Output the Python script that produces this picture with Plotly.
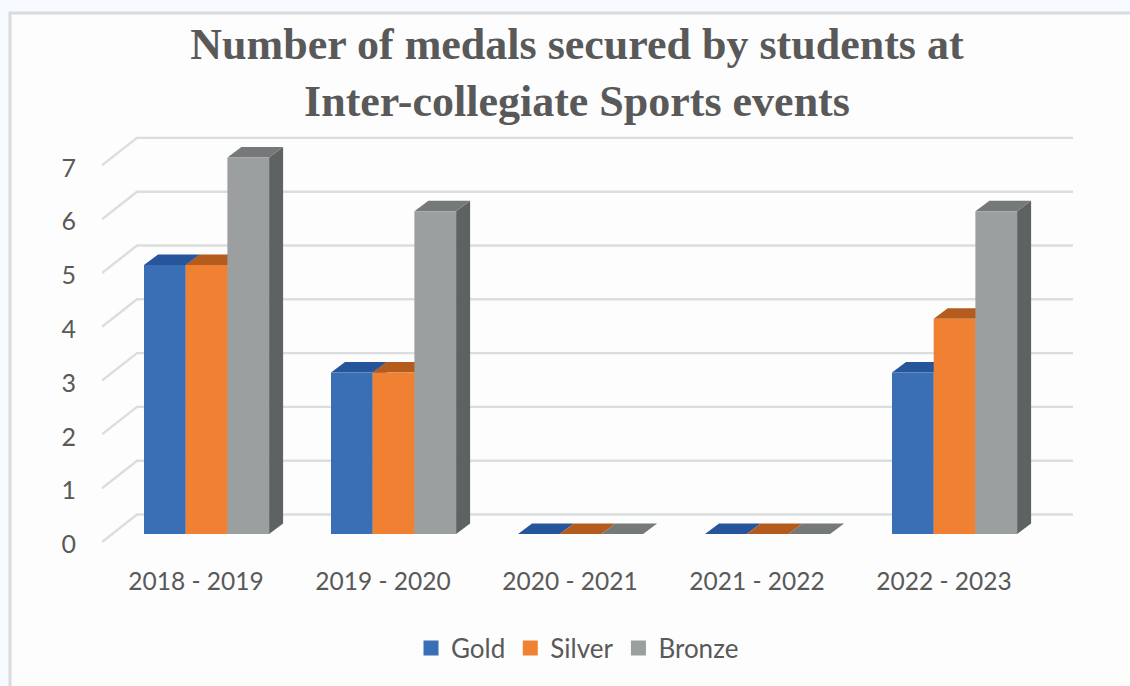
import plotly.graph_objects as go

categories = ["2018 - 2019", "2019 - 2020", "2020 - 2021", "2021 - 2022", "2022 - 2023"]
gold = [5, 3, 0, 0, 3]
silver = [5, 3, 0, 0, 4]
bronze = [7, 6, 0, 0, 6]
y_ticks = [0, 1, 2, 3, 4, 5, 6, 7]
title_lines = ["Number of medals secured by students at", "Inter-collegiate Sports events"]

W, H = 1130, 686
PL, PR, PT, PB = 102, 1073, 130, 560       # plot area in page pixels
PX_X = 187.0                               # pixels per category
PX_Y = 53.8                                # pixels per value
X0_PX, Y0_PX = 196.0, 544.5                # where category 0 / value 0 sit

x_range = [(PL - X0_PX) / PX_X, (PR - X0_PX) / PX_X]
y_range = [(Y0_PX - PB) / PX_Y, (Y0_PX - PT) / PX_Y]

# pseudo-3D depth, in axis units
WALL_Y0 = 2.5 / PX_Y                       # labels sit a little below the wall's front edge
WALL_DX, WALL_DY = 35 / PX_X, 27.5 / PX_Y  # floor front edge to back wall
BAR_BASE = 10.5 / PX_Y
BAR_DX, BAR_DY = 14 / PX_X, 10.5 / PX_Y
BAR_W = 41.7 / PX_X
BAR_START = (144 - X0_PX) / PX_X

series = [
    ("Gold", gold, "#3B6FB5", "#27559B", "#27559B"),
    ("Silver", silver, "#F08133", "#B35C1E", "#B35C1E"),
    ("Bronze", bronze, "#9C9F9F", "#76797A", "#5F6263"),
]

fig = go.Figure()

# gridlines: back wall plus the diagonal on the left wall
gx, gy = [], []
for v in y_ticks:
    gx += [x_range[0], x_range[0] + WALL_DX, x_range[1], None]
    gy += [v + WALL_Y0, v + WALL_Y0 + WALL_DY, v + WALL_Y0 + WALL_DY, None]
fig.add_trace(go.Scatter(x=gx, y=gy, mode="lines", line=dict(color="#DCDEDE", width=2.4),
                         hoverinfo="skip", showlegend=False))

# top and side faces
for s, (name, vals, front, top, side) in enumerate(series):
    tx, ty, sx, sy = [], [], [], []
    for i, v in enumerate(vals):
        x1 = i + BAR_START + s * BAR_W
        x2 = x1 + BAR_W
        h = BAR_BASE + v
        tx += [x1, x2, x2 + BAR_DX, x1 + BAR_DX, x1, None]
        ty += [h, h, h + BAR_DY, h + BAR_DY, h, None]
        sx += [x2, x2 + BAR_DX, x2 + BAR_DX, x2, x2, None]
        sy += [BAR_BASE, BAR_BASE + BAR_DY, h + BAR_DY, h, BAR_BASE, None]
    fig.add_trace(go.Scatter(x=sx, y=sy, mode="lines", fill="toself", fillcolor=side,
                             line=dict(width=0, color=side), hoverinfo="skip", showlegend=False))
    fig.add_trace(go.Scatter(x=tx, y=ty, mode="lines", fill="toself", fillcolor=top,
                             line=dict(width=0, color=top), hoverinfo="skip", showlegend=False))

# front faces
xs = list(range(len(categories)))
for s, (name, vals, front, top, side) in enumerate(series):
    fig.add_trace(go.Bar(x=xs, y=vals, base=BAR_BASE, name=name, width=BAR_W,
                         offset=BAR_START + s * BAR_W, marker=dict(color=front, line=dict(width=0)),
                         zorder=5, showlegend=False))
# legend keys, sized like the square swatches of the original
for name, vals, front, top, side in series:
    fig.add_trace(go.Scatter(x=[None], y=[None], mode="markers", name=name,
                             marker=dict(symbol="square", size=15, color=front)))

def px(v): return (v - PL) / (PR - PL)
def py(v): return (PB - v) / (PB - PT)

fig.update_layout(
    width=W, height=H, barmode="overlay",
    margin=dict(l=PL, r=W - PR, t=PT, b=H - PB, autoexpand=False),
    paper_bgcolor="#F6FAFE", plot_bgcolor="rgba(0,0,0,0)",
    title=dict(text="<br>".join(title_lines), x=577 / W, xanchor="center", y=1 - 59 / H, yanchor="middle",
               yref="container",
               font=dict(family="Liberation Serif", size=44, color="#595959", weight="bold")),
    xaxis=dict(range=x_range, tickvals=xs, ticktext=categories, showgrid=False, zeroline=False,
               ticks="outside", ticklen=0, tickcolor="rgba(0,0,0,0)", showline=False,
               tickfont=dict(family="Lato", size=24.5, color="#595959")),
    yaxis=dict(range=y_range, tickvals=y_ticks, showgrid=False, zeroline=False,
               ticks="outside", ticklen=20, tickcolor="rgba(0,0,0,0)", showline=False,
               tickfont=dict(family="Lato", size=25, color="#595959")),
    legend=dict(orientation="h", x=px(411), xanchor="left", y=py(648), yanchor="middle",
                font=dict(family="Lato", size=26, color="#595959"), bgcolor="rgba(0,0,0,0)",
                itemwidth=30, traceorder="normal"),
    shapes=[dict(type="rect", xref="paper", yref="paper", layer="below",
                 x0=px(10), x1=px(1140), y0=py(13), y1=py(700),
                 fillcolor="#FDFDFD", line=dict(color="#D8DCDC", width=3))],
)

fig.write_html("out.html", config=dict(displayModeBar=False),
               post_script="document.body.style.margin='0';")
